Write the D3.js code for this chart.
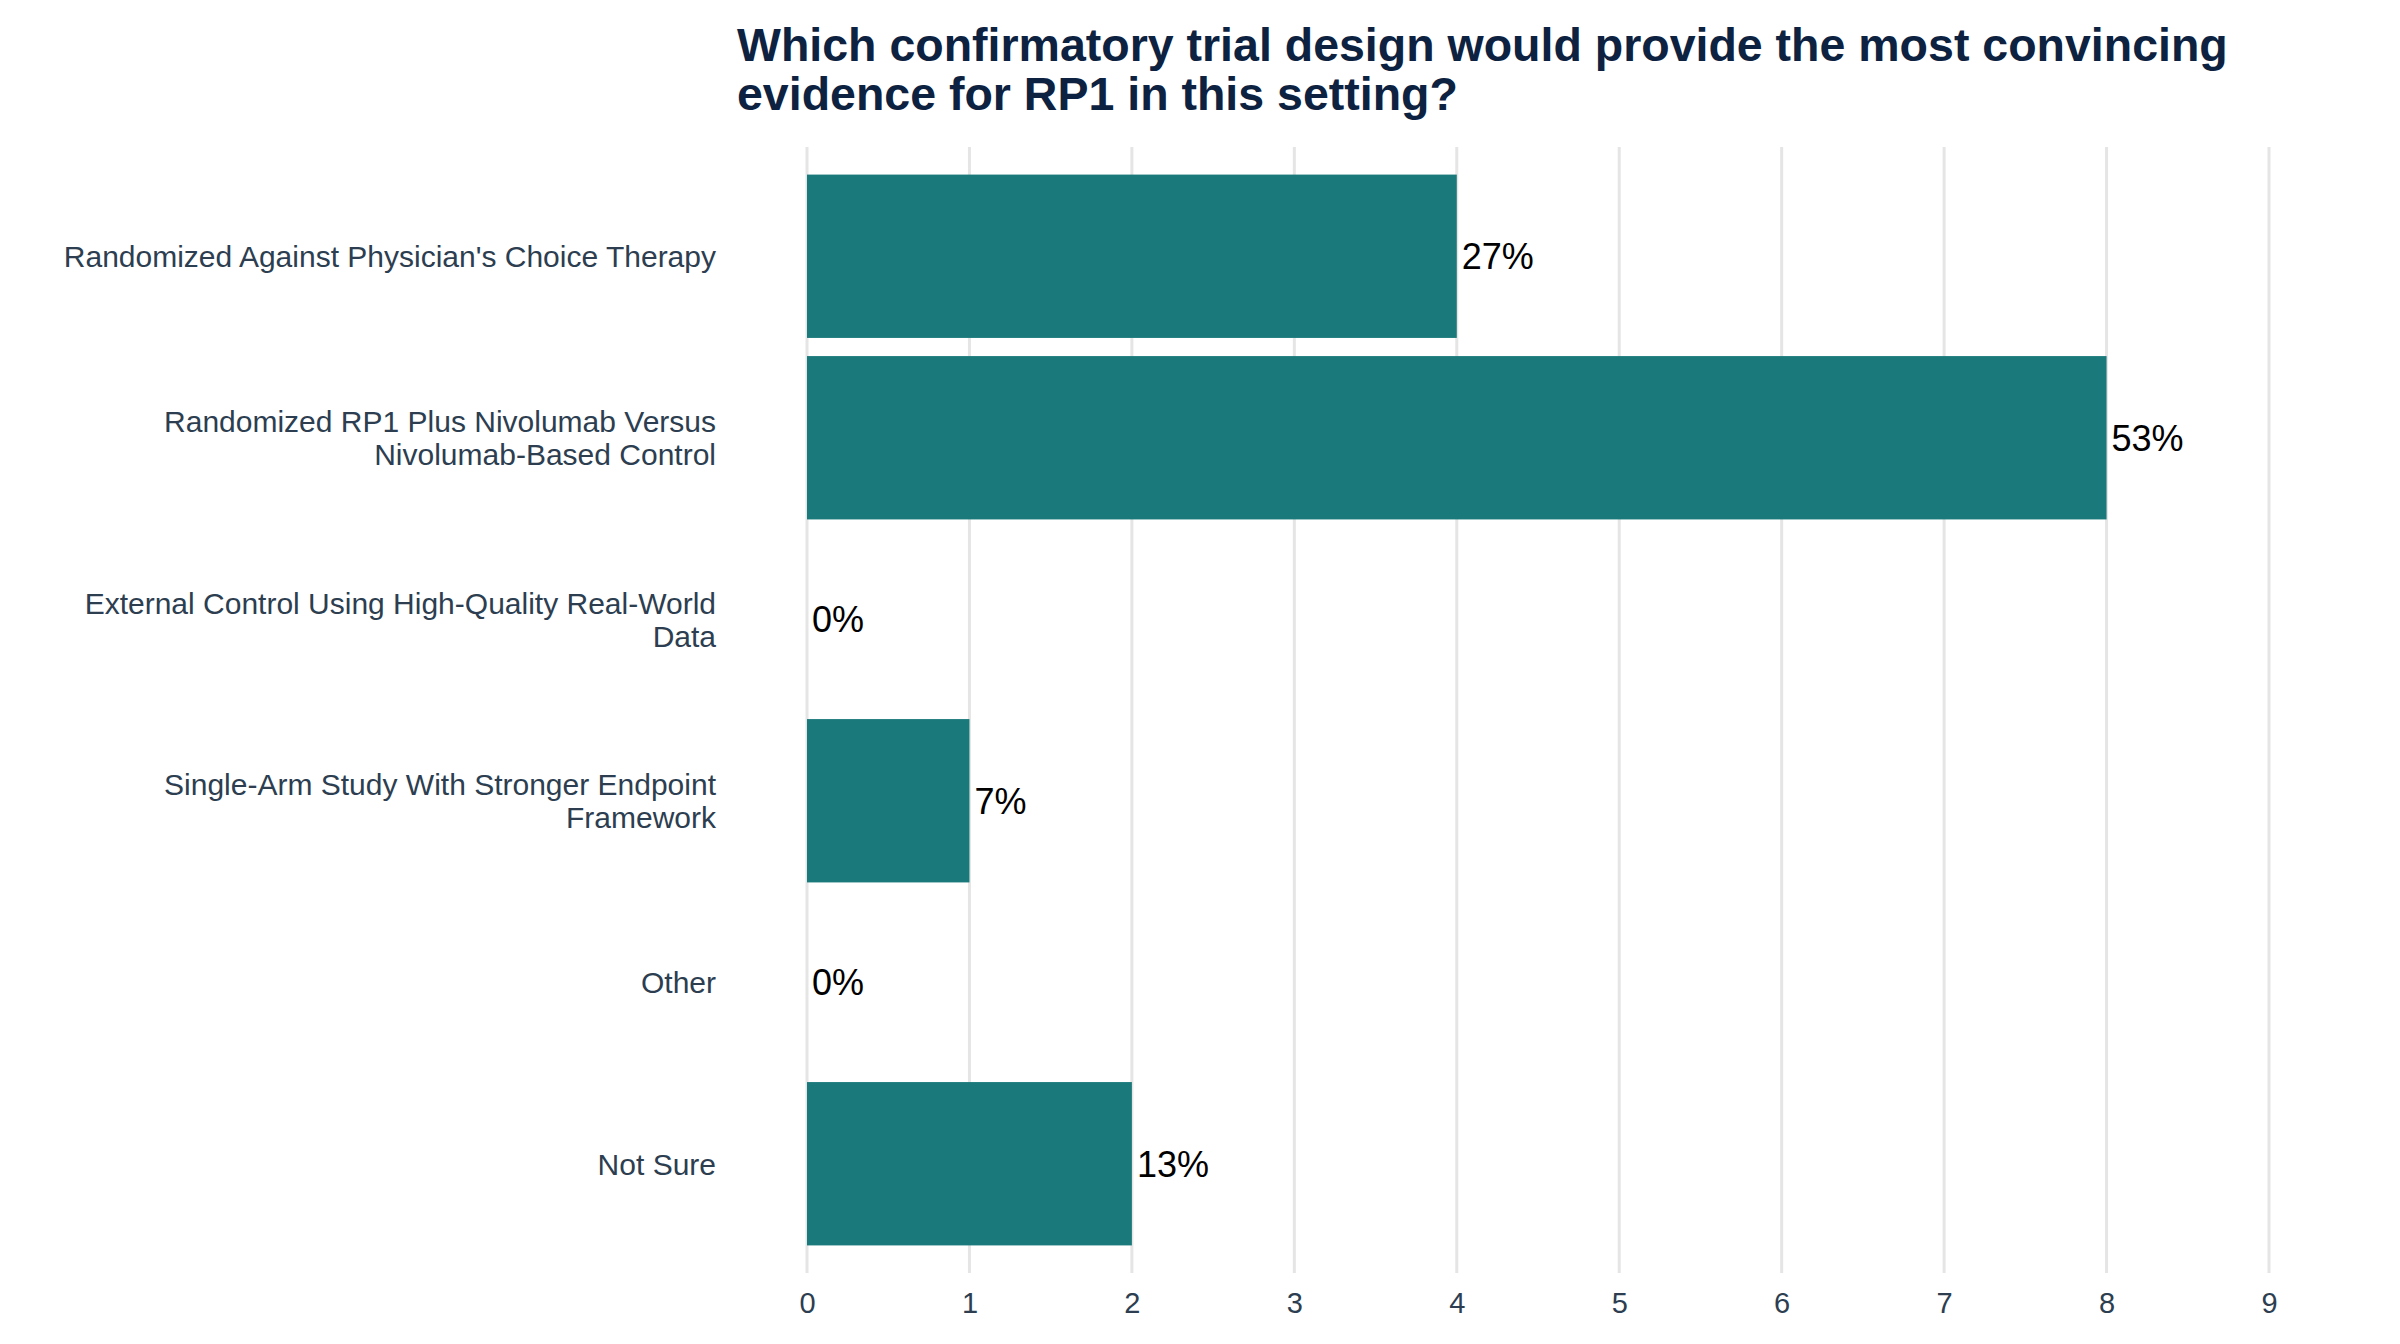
<!DOCTYPE html>
<html>
<head>
<meta charset="utf-8">
<style>
  body { margin: 0; background: #fff; }
  svg { display: block; }
</style>
</head>
<body>
<script src="https://cdn.jsdelivr.net/npm/d3@7"></script>
<svg id="chart" width="2400" height="1344"></svg>
<script>
var titleLines = ["Which confirmatory trial design would provide the most convincing",
                  "evidence for RP1 in this setting?"];

var categories = [
    "Randomized Against Physician's Choice Therapy",
    "Randomized RP1 Plus Nivolumab Versus\nNivolumab-Based Control",
    "External Control Using High-Quality Real-World\nData",
    "Single-Arm Study With Stronger Endpoint\nFramework",
    "Other",
    "Not Sure"
];
var counts = [4, 8, 0, 1, 0, 2];
var xTicks = [0, 1, 2, 3, 4, 5, 6, 7, 8, 9];

var total = d3.sum(counts);
var data = categories.map((c, i) => ({ cat: c, n: counts[i], pct: Math.round(100 * counts[i] / total) + "%" }));

var svg = d3.select("#chart");
var font = "'Liberation Sans', Arial, Helvetica, sans-serif";
var labelColor = "#2c3e50";

var plotLeft = 807, plotRight = 2269, plotTop = 147, plotBottom = 1273;

var x = d3.scaleLinear().domain([0, 9]).range([plotLeft, plotRight]);
var y = d3.scaleBand().domain(categories).range([plotTop, plotBottom])
    .paddingInner(0.1).paddingOuter(0.152);

// title, one text per line
svg.append("g").selectAll("text").data(titleLines).enter().append("text")
    .attr("x", 737).attr("y", (d, i) => 61 + i * 49)
    .style("font-family", font).style("font-weight", "bold")
    .style("font-size", "46.5px").style("fill", "#0d2240")
    .text(d => d);

// grid
svg.append("g").selectAll("line").data(xTicks).enter().append("line")
    .attr("x1", d => x(d)).attr("x2", d => x(d))
    .attr("y1", plotTop).attr("y2", plotBottom)
    .style("stroke", "#e5e5e5").style("stroke-width", 3);

// x axis
var xAxis = svg.append("g")
    .attr("transform", "translate(0," + plotBottom + ")")
    .call(d3.axisBottom(x).tickValues(xTicks).tickSize(0).tickPadding(0).tickFormat(d3.format("d")));
xAxis.select(".domain").remove();
xAxis.selectAll("text")
    .attr("y", 40).attr("dy", null)
    .style("font-family", font).style("font-size", "29px").style("fill", labelColor);

// bars
svg.append("g").selectAll("rect").data(data).enter().append("rect")
    .attr("x", x(0))
    .attr("y", d => y(d.cat))
    .attr("width", d => x(d.n) - x(0))
    .attr("height", y.bandwidth())
    .style("fill", "#1a797b");

// value labels
svg.append("g").selectAll("text").data(data).enter().append("text")
    .attr("x", d => x(d.n) + 5)
    .attr("y", d => y(d.cat) + y.bandwidth() / 2 + 13)
    .style("font-family", font).style("font-size", "36px").style("fill", "#000")
    .text(d => d.pct);

// category labels
var cl = svg.append("g").selectAll("text").data(data).enter().append("text")
    .attr("text-anchor", "end")
    .style("font-family", font).style("font-size", "30px").style("fill", labelColor);
cl.each(function(d) {
    var lines = d.cat.split("\n");
    var cy = y(d.cat) + y.bandwidth() / 2;
    var t = d3.select(this);
    lines.forEach(function(l, i) {
        t.append("tspan")
            .attr("x", 716)
            .attr("y", cy + 11 + (i - (lines.length - 1) / 2) * 33)
            .text(l);
    });
});
</script>
</body>
</html>
